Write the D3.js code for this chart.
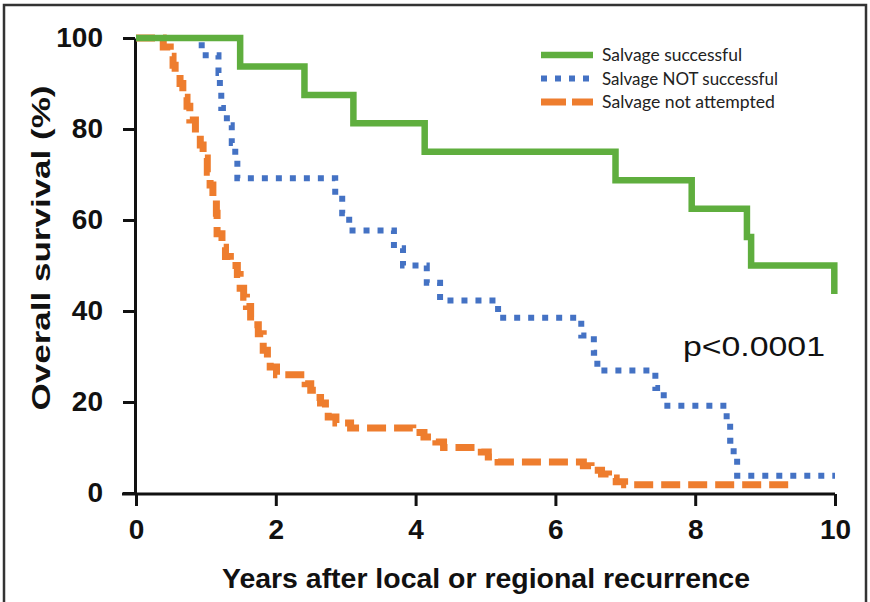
<!DOCTYPE html>
<html>
<head>
<meta charset="utf-8">
<script src="https://cdn.jsdelivr.net/npm/d3@7"></script>
<style>
  body { margin: 0; background: #fff; }
  .tick text { font-family: "Liberation Sans", Arial, sans-serif; font-weight: bold; fill: #111; }
</style>
</head>
<body>
<div id="chart"></div>
<script>
// x ticks / y ticks
var xTicks = [0, 2, 4, 6, 8, 10];
var yTicks = [0, 20, 40, 60, 80, 100];

// Salvage successful
var successTime = [0, 1.49, 2.41, 3.11, 4.13, 6.86, 7.95, 8.74, 8.8, 9.99];
var successSurv = [100, 93.75, 87.5, 81.25, 75, 68.75, 62.5, 56.25, 50, 43.75];

// Salvage NOT successful
var failTime = [0, 0.94, 1.18, 1.2, 1.22, 1.3, 1.37, 1.42, 1.45, 2.85, 2.95, 3.05, 3.69, 3.82, 4.16, 4.35, 5.18, 6.37, 6.55, 6.6, 7.43, 7.55, 8.45, 8.5, 8.55, 8.6, 10];
var failSurv = [100, 96.2, 92.3, 88.5, 84.6, 80.8, 76.9, 73.1, 69.2, 65.4, 61.5, 57.7, 53.8, 50, 46.2, 42.3, 38.5, 34.6, 30.8, 26.9, 23.1, 19.2, 15.4, 11.5, 7.7, 3.8, 3.8];

// Salvage not attempted
var noneTime = [0, 0.39, 0.49, 0.53, 0.56, 0.63, 0.67, 0.73, 0.77, 0.85, 0.92, 0.96, 1.02, 1.06, 1.1, 1.15, 1.16, 1.23, 1.28, 1.35, 1.45, 1.49, 1.54, 1.58, 1.64, 1.69, 1.75, 1.82, 1.88, 1.92, 2.01, 2.42, 2.5, 2.58, 2.64, 2.71, 2.75, 2.86, 3.07, 3.96, 4.12, 4.29, 4.4, 4.94, 5.04, 5.18, 6.4, 6.51, 6.66, 6.76, 6.87, 6.99, 9.43];
var noneSurv = [100, 98, 96, 94, 92, 90, 87, 85, 82, 79, 76.5, 73.6, 70.5, 67.7, 65, 61.5, 57, 54, 52, 50, 48, 45, 43, 41, 38.7, 37, 35, 31.4, 29.5, 27.7, 26, 24, 22.6, 21, 19.8, 18, 16.7, 15.4, 14.3, 13.3, 12.3, 11.2, 10, 9, 7.9, 6.8, 6, 5, 4.2, 3.3, 2.5, 1.8, 1.8];

var seriesNames = ["Salvage successful", "Salvage NOT successful", "Salvage not attempted"];
var colors = ["#5fae3e", "#4472c4", "#ee7d2e"];
var dashes = [null, "6,8", "19,8"];
var widths = [6.5, 6, 7];

var width = 870, height = 602;
var svg = d3.select("#chart").append("svg")
    .attr("width", width).attr("height", height);

// frame
svg.append("rect")
    .attr("x", 4).attr("y", 5)
    .attr("width", 862).attr("height", 610)
    .attr("fill", "none").attr("stroke", "#333").attr("stroke-width", 2.5);

var x = d3.scaleLinear().domain([0, 10]).range([136, 835]);
var y = d3.scaleLinear().domain([0, 100]).range([493, 38]);

var xAxis = svg.append("g").attr("transform", "translate(0,494)")
    .call(d3.axisBottom(x).tickValues(xTicks).tickSize(12).tickSizeOuter(0).tickPadding(13));
var yAxis = svg.append("g").attr("transform", "translate(135,0)")
    .call(d3.axisLeft(y).tickValues(yTicks).tickSize(12).tickSizeOuter(0).tickPadding(20));

[xAxis, yAxis].forEach(function (a) {
    a.select(".domain").attr("stroke", "#111").attr("stroke-width", 3);
    a.selectAll(".tick line").attr("stroke", "#111").attr("stroke-width", 3);
    a.selectAll(".tick text").attr("font-size", 28);
});
// extend x axis line left to meet 0 tick
xAxis.select(".domain").attr("d", "M" + (122 - 0) + ",0H" + x(10));

var line = d3.line()
    .x(function (d) { return x(d.t); })
    .y(function (d) { return y(d.s); })
    .curve(d3.curveStepAfter);

function toPoints(times, surv) {
    return times.map(function (t, i) { return { t: t, s: surv[i] }; });
}
var series = [toPoints(noneTime, noneSurv), toPoints(failTime, failSurv), toPoints(successTime, successSurv)];
var order = [2, 1, 0];

svg.append("g").selectAll("path").data(series).enter().append("path")
    .attr("d", line)
    .attr("fill", "none")
    .attr("stroke", function (d, i) { return colors[order[i]]; })
    .attr("stroke-width", function (d, i) { return widths[order[i]]; })
    .attr("stroke-dasharray", function (d, i) { return dashes[order[i]]; });

// legend
var legend = svg.append("g").selectAll(".legends").data(seriesNames).enter().append("g")
    .classed("legends", true)
    .attr("transform", function (d, i) { return "translate(541," + (55 + i * 23.5) + ")"; });
legend.append("line")
    .attr("x1", 0).attr("x2", 52).attr("y1", 0).attr("y2", 0)
    .attr("stroke", function (d, i) { return colors[i]; })
    .attr("stroke-width", function (d, i) { return widths[i]; })
    .attr("stroke-dasharray", function (d, i) { return i == 2 ? "25,6" : dashes[i]; });
legend.append("text")
    .text(function (d) { return d; })
    .attr("x", 61).attr("y", 6)
    .attr("font-family", "Lato, 'Open Sans', sans-serif")
    .attr("font-size", 16.5)
    .attr("fill", "#222")
    .attr("textLength", function (d, i) { return [140, 176, 173][i]; })
    .attr("lengthAdjust", "spacingAndGlyphs");

// p value
svg.append("text").text("p<0.0001")
    .attr("x", 683).attr("y", 356)
    .attr("font-family", "'Liberation Sans', Arial, sans-serif")
    .attr("font-size", 27).attr("fill", "#111")
    .attr("textLength", 142).attr("lengthAdjust", "spacingAndGlyphs");

// axis titles
svg.append("text").text("Years after local or regional recurrence")
    .attr("x", 486).attr("y", 588)
    .attr("text-anchor", "middle")
    .attr("font-family", "'Liberation Sans', Arial, sans-serif")
    .attr("font-weight", "bold").attr("font-size", 27).attr("fill", "#111")
    .attr("textLength", 528).attr("lengthAdjust", "spacingAndGlyphs");

svg.append("text").text("Overall survival (%)")
    .attr("transform", "translate(50,248) rotate(-90)")
    .attr("text-anchor", "middle")
    .attr("font-family", "'Liberation Sans', Arial, sans-serif")
    .attr("font-weight", "bold").attr("font-size", 25).attr("fill", "#111")
    .attr("textLength", 325).attr("lengthAdjust", "spacingAndGlyphs");
</script>
</body>
</html>
